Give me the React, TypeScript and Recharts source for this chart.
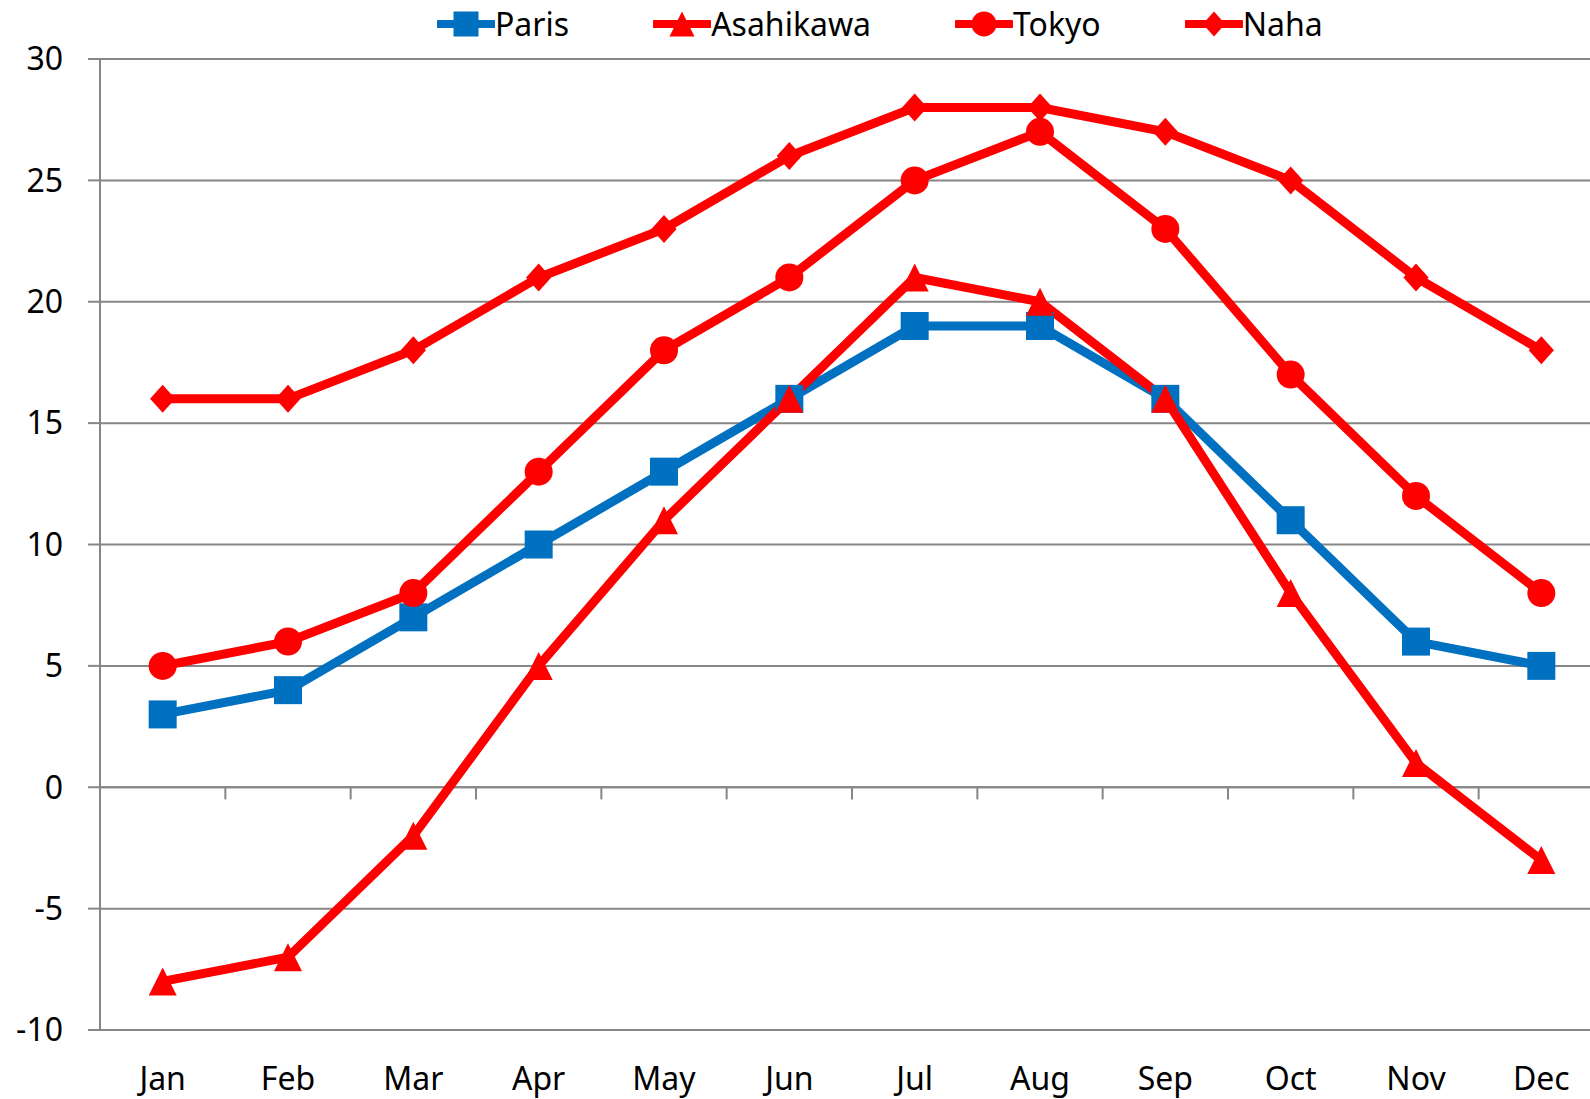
import React from 'react';
import { LineChart, Line, XAxis, YAxis, CartesianGrid, Legend, ReferenceLine } from 'recharts';

const months = ['Jan', 'Feb', 'Mar', 'Apr', 'May', 'Jun', 'Jul', 'Aug', 'Sep', 'Oct', 'Nov', 'Dec'];
const paris = [3, 4, 7, 10, 13, 16, 19, 19, 16, 11, 6, 5];
const asahikawa = [-8, -7, -2, 5, 11, 16, 21, 20, 16, 8, 1, -3];
const tokyo = [5, 6, 8, 13, 18, 21, 25, 27, 23, 17, 12, 8];
const naha = [16, 16, 18, 21, 23, 26, 28, 28, 27, 25, 21, 18];
const yTicks = [-10, -5, 0, 5, 10, 15, 20, 25, 30];
const categoryBoundaries = [1, 2, 3, 4, 5, 6, 7, 8, 9, 10, 11];

const BLUE = '#0070C0';
const RED = '#FF0000';
const GRID = '#868686';
const FONT = '"Noto Sans", "Open Sans", sans-serif';
const FS = 32;

const data = months.map((m, i) => ({
  month: m,
  pos: i + 0.5,
  Paris: paris[i],
  Asahikawa: asahikawa[i],
  Tokyo: tokyo[i],
  Naha: naha[i],
}));

type Shape = 'square' | 'triangle' | 'circle' | 'diamond';

function markerPath(shape: Shape, cx: number, cy: number, s: number, color: string, key?: string) {
  const h = s / 2;
  if (shape === 'square') return <rect key={key} x={cx - h} y={cy - h} width={s} height={s} fill={color} />;
  if (shape === 'circle') return <circle key={key} cx={cx} cy={cy} r={h} fill={color} />;
  if (shape === 'triangle')
    return <polygon key={key} points={`${cx},${cy - h} ${cx + h},${cy + h} ${cx - h},${cy + h}`} fill={color} />;
  const w = h * 0.9;
  return <polygon key={key} points={`${cx},${cy - h} ${cx + w},${cy} ${cx},${cy + h} ${cx - w},${cy}`} fill={color} />;
}

const makeDot = (shape: Shape, color: string) => (props: any) => {
  const { cx, cy, index } = props;
  if (cx == null || cy == null) return <g key={`e-${shape}-${index}`} />;
  return markerPath(shape, cx, cy, 28, color, `${shape}-${index}`);
};

const series: { key: string; color: string; shape: Shape }[] = [
  { key: 'Paris', color: BLUE, shape: 'square' },
  { key: 'Asahikawa', color: RED, shape: 'triangle' },
  { key: 'Tokyo', color: RED, shape: 'circle' },
  { key: 'Naha', color: RED, shape: 'diamond' },
];

const renderLegend = () => (
  <div style={{ display: 'flex', flexDirection: 'row', alignItems: 'center', fontFamily: FONT, fontSize: FS, color: '#000', whiteSpace: 'nowrap' }}>
    {series.map((s, i) => (
      <div key={s.key} style={{ display: 'flex', alignItems: 'center', marginLeft: i === 0 ? 0 : 84 }}>
        <svg width={58} height={30} style={{ display: 'block' }}>
          <line x1={2} y1={15} x2={56} y2={15} stroke={s.color} strokeWidth={8} strokeLinecap="round" />
          {markerPath(s.shape, 29, 15, 25, s.color)}
        </svg>
        <span style={{ lineHeight: '44px' }}>{s.key}</span>
      </div>
    ))}
  </div>
);

export default function App() {
  return (
    <div style={{ position: 'absolute', left: 0, top: 0, width: 1590, height: 1099, overflow: 'hidden', background: '#fff' }}>
      <LineChart width={1604} height={1099} data={data} margin={{ top: 59, right: 0, bottom: 0, left: 0 }}>
        <CartesianGrid vertical={false} stroke={GRID} strokeWidth={2} />
        <XAxis
          dataKey="month"
          scale="band"
          axisLine={false}
          tickLine={false}
          tickSize={0}
          tickMargin={37}
          height={69}
          interval={0}
          tick={{ fontFamily: FONT, fontSize: FS, fill: '#000' }}
        />
        <XAxis
          xAxisId="bounds"
          dataKey="pos"
          type="number"
          scale="linear"
          domain={[0, 12]}
          padding={{ left: 0, right: 0 }}
          hide
          allowDataOverflow
        />
        <YAxis
          domain={[-10, 30]}
          ticks={yTicks}
          width={100}
          interval={0}
          axisLine={{ stroke: GRID, strokeWidth: 2 }}
          tickLine={{ stroke: GRID, strokeWidth: 2 }}
          tickSize={12}
          tickMargin={25}
          tick={{ fontFamily: FONT, fontSize: FS, fill: '#000' }}
        />
        <ReferenceLine y={0} stroke={GRID} strokeWidth={2} />
        {categoryBoundaries.map((b) => (
          <ReferenceLine
            key={`tb-${b}`}
            xAxisId="bounds"
            segment={[{ x: b, y: 0 }, { x: b, y: -0.5 }]}
            stroke={GRID}
            strokeWidth={2}
          />
        ))}
        <Legend
          verticalAlign="middle"
          align="center"
          content={renderLegend}
          wrapperStyle={{ top: 2, left: 437, width: 'auto' }}
        />
        {series.map((s) => (
          <Line
            key={s.key}
            dataKey={s.key}
            stroke={s.color}
            strokeWidth={9}
            dot={makeDot(s.shape, s.color)}
            activeDot={false}
            isAnimationActive={false}
            type="linear"
          />
        ))}
      </LineChart>
    </div>
  );
}
